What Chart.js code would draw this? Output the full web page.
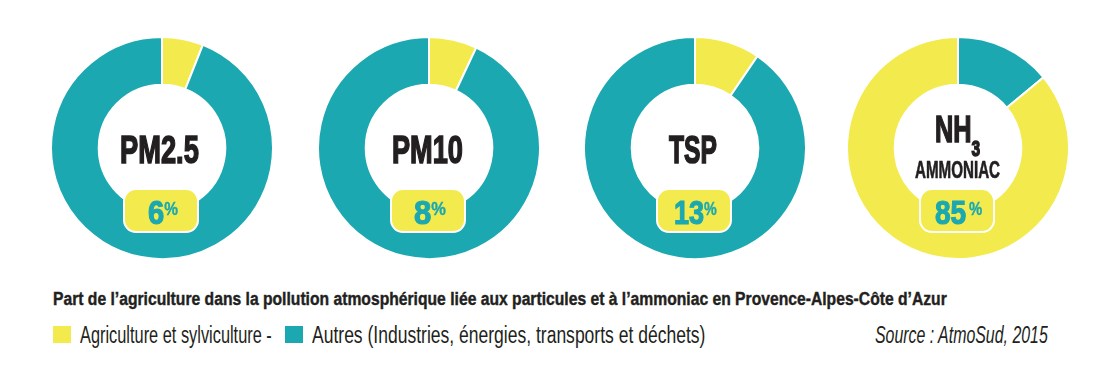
<!DOCTYPE html>
<html>
<head>
<meta charset="utf-8">
<script src="https://cdn.jsdelivr.net/npm/chart.js@4/dist/chart.umd.min.js"></script>
<style>
    body { margin: 0; width: 1118px; height: 376px; background: #fff; position: relative; overflow: hidden; }
    canvas.donut { position: absolute; top: 36px; }
    .txt { position: absolute; white-space: nowrap; transform-origin: 0 0; z-index: 3; }
    .badge { position: absolute; top: 188px; width: 72px; height: 41px; background: #f3eb4d; border: 2px solid #fff; border-radius: 13px; z-index: 2; }
    .swatch { position: absolute; top: 326px; width: 18px; height: 17px; }
    .pct { position: relative; }
</style>
</head>
<body>
<script>
// données
const pollutants = ['PM2.5', 'PM10', 'TSP', 'NH3'];
const agriLabels = [6, 8, 13, 85];          // pourcentages affichés dans les pastilles
const agriShares = [6, 7, 9.5, 86];         // parts dessinées sur les anneaux
const agriFirst = [true, true, true, false];  // NH3 : la part "Autres" commence en haut
const seriesNames = ['Agriculture et sylviculture', 'Autres (Industries, énergies, transports et déchets)'];
const seriesColors = ['#f3eb4d', '#1ba8b1'];

const title = 'Part de l\u2019agriculture dans la pollution atmosphérique liée aux particules et à l\u2019ammoniac en Provence-Alpes-Côte d\u2019Azur';
const source = 'Source : AtmoSud, 2015';

// mise en page
const centersX = [162, 429, 695, 958];
const SIZE = 224;
const FONT = '"Liberation Sans Narrow", "Liberation Sans", Arial, sans-serif';
const DARK = '#231f20';

function addText(html, o) {
    const el = document.createElement('div');
    el.className = 'txt';
    el.innerHTML = html;
    el.style.font = `${o.style || 'normal'} ${o.weight || 700} ${o.fs}px ${FONT}`;
    el.style.lineHeight = o.fs + 'px';
    el.style.color = o.color || DARK;
    el.style.top = (o.capTop - 0.13 * o.fs) + 'px';
    if (o.stroke) el.style.webkitTextStroke = o.stroke + 'px ' + (o.color || DARK);
    document.body.appendChild(el);
    const w = el.offsetWidth;
    const s = o.width / w;
    const left = o.cx !== undefined ? o.cx - o.width / 2 : o.left;
    el.style.left = left + 'px';
    el.style.transform = `scaleX(${s})`;
    return el;
}

pollutants.forEach((name, i) => {
    const canvas = document.createElement('canvas');
    canvas.className = 'donut';
    canvas.width = SIZE;
    canvas.height = SIZE;
    canvas.style.left = (centersX[i] - SIZE / 2) + 'px';
    document.body.appendChild(canvas);

    const agri = agriShares[i];
    const others = 100 - agri;
    const data = agriFirst[i] ? [agri, others] : [others, agri];
    const colors = agriFirst[i] ? seriesColors : [seriesColors[1], seriesColors[0]];
    const labels = agriFirst[i] ? seriesNames : [seriesNames[1], seriesNames[0]];

    new Chart(canvas.getContext('2d'), {
        type: 'doughnut',
        data: {
            labels: labels,
            datasets: [{
                data: data,
                backgroundColor: colors,
                borderColor: '#ffffff',
                borderWidth: 2
            }]
        },
        options: {
            responsive: false,
            animation: false,
            cutout: '57%',
            layout: { padding: 0 },
            plugins: {
                legend: { display: false },
                tooltip: { enabled: false }
            }
        }
    });

    // pastille jaune
    const badge = document.createElement('div');
    badge.className = 'badge';
    badge.style.left = (centersX[i] - 1 - 38) + 'px';
    document.body.appendChild(badge);
});

// libellés au centre
addText('PM2.5', { cx: 159, capTop: 135, fs: 39, width: 79, stroke: 1.6 });
addText('PM10', { cx: 427.5, capTop: 135, fs: 39, width: 71, stroke: 1.6 });
addText('TSP', { cx: 693, capTop: 135, fs: 39, width: 48, stroke: 1.6 });
addText('NH<span style="font-size:22px;position:relative;top:14px">3</span>', { left: 935, capTop: 117, fs: 36, width: 45, stroke: 1.5 });
addText('AMMONIAC', { cx: 957.5, capTop: 162, fs: 23, width: 85, stroke: 0.6 });

// pourcentages
const pctWidths = [30, 32, 43, 47];
agriLabels.forEach((v, i) => {
    const gap = v >= 50 ? '<span style="font-size:12px"> </span>' : '';
    addText(`${v}${gap}<span class="pct" style="font-size:18px;top:-9px;-webkit-text-stroke:0.4px">%</span>`,
        { cx: centersX[i] + 0.5, capTop: 199.5, fs: 34, width: pctWidths[i], color: seriesColors[1], stroke: 1.2 });
});

// titre et légende
addText(title, { left: 53, capTop: 293, fs: 17.5, width: 894, stroke: 0.4 });

seriesColors.forEach((c, i) => {
    const sw = document.createElement('div');
    sw.className = 'swatch';
    sw.style.background = c;
    sw.style.left = (i === 0 ? 53 : 285) + 'px';
    document.body.appendChild(sw);
});
addText(seriesNames[0] + ' -', { left: 80, capTop: 327, fs: 23, width: 192, weight: 400 });
addText(seriesNames[1], { left: 312, capTop: 327, fs: 23, width: 393, weight: 400 });
addText(source, { left: 875, capTop: 327, fs: 23, width: 173, weight: 400, style: 'italic' });
</script>
</body>
</html>
